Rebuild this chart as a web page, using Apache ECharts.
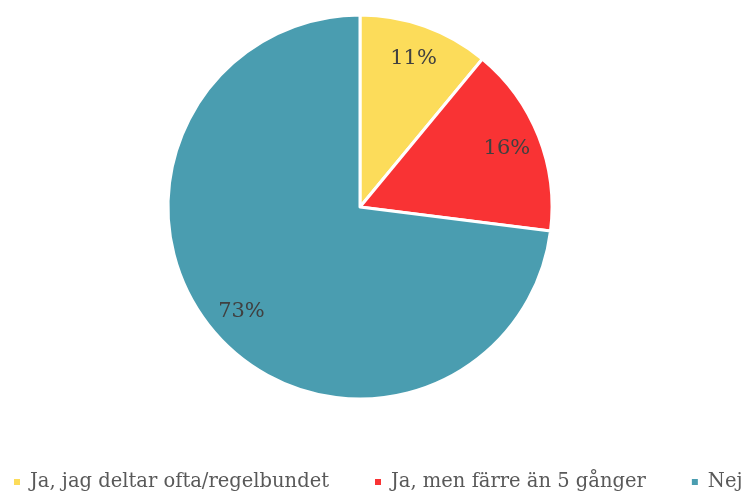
<!DOCTYPE html>
<html>
<head>
<meta charset="utf-8">
<script src="https://cdn.jsdelivr.net/npm/echarts@6/dist/echarts.min.js"></script>
<style>
html, body { margin: 0; padding: 0; background: #ffffff; }
#chart { width: 744px; height: 494px; }
</style>
</head>
<body>
<div id="chart"></div>
<script>
// Survey answers and their shares (percent)
const categories = ['Ja, jag deltar ofta/regelbundet', 'Ja, men färre än 5 gånger', 'Nej'];
const shares = [11, 16, 73];
const colors = ['#FCDC5A', '#F93334', '#4A9DB0'];

const FONT = 'DejaVu Serif';
const data = categories.map((name, i) => ({ name, value: shares[i], itemStyle: { color: colors[i] } }));

const chart = echarts.init(document.getElementById('chart'), null, { renderer: 'canvas' });
chart.setOption({
  animation: false,
  backgroundColor: '#ffffff',
  legend: {
    top: 472,
    left: 12,
    right: 0,
    padding: 0,
    icon: 'rect',
    itemWidth: 8,
    itemHeight: 8,
    itemGap: 44,
    textStyle: { fontFamily: FONT, fontSize: 19.5, color: '#595959', padding: [0, 0, 0, 4] },
    data: categories
  },
  series: [
    {
      type: 'pie',
      center: [360, 207],
      radius: [0, 192],
      startAngle: 90,
      clockwise: true,
      label: { show: false },
      labelLine: { show: false },
      itemStyle: { borderColor: '#ffffff', borderWidth: 3 },
      emphasis: { disabled: true },
      data
    },
    {
      // transparent ring that carries the percentage labels
      type: 'pie',
      center: [360, 207],
      radius: [118, 192],
      startAngle: 90,
      clockwise: true,
      silent: true,
      legendHoverLink: false,
      itemStyle: { color: 'rgba(0,0,0,0)', borderWidth: 0 },
      label: {
        show: true,
        position: 'inside',
        formatter: p => p.value + '%',
        fontFamily: FONT,
        fontSize: 21,
        color: '#404040'
      },
      labelLine: { show: false },
      emphasis: { disabled: true },
      data: categories.map((name, i) => ({ name: name + ' ', value: shares[i] }))
    }
  ]
});
</script>
</body>
</html>
